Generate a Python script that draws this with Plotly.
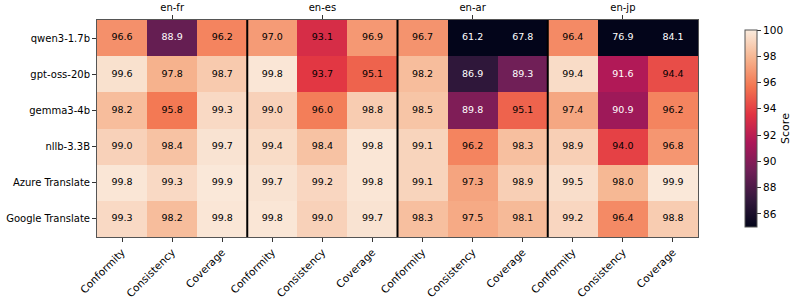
import plotly.graph_objects as go

models = ["qwen3-1.7b", "gpt-oss-20b", "gemma3-4b", "nllb-3.3B", "Azure Translate", "Google Translate"]
pairs = ["en-fr", "en-es", "en-ar", "en-jp"]
metrics = ["Conformity", "Consistency", "Coverage"]

qwen = [96.6, 88.9, 96.2, 97.0, 93.1, 96.9, 96.7, 61.2, 67.8, 96.4, 76.9, 84.1]
gptoss = [99.6, 97.8, 98.7, 99.8, 93.7, 95.1, 98.2, 86.9, 89.3, 99.4, 91.6, 94.4]
gemma = [98.2, 95.8, 99.3, 99.0, 96.0, 98.8, 98.5, 89.8, 95.1, 97.4, 90.9, 96.2]
nllb = [99.0, 98.4, 99.7, 99.4, 98.4, 99.8, 99.1, 96.2, 98.3, 98.9, 94.0, 96.8]
azure = [99.8, 99.3, 99.9, 99.7, 99.2, 99.8, 99.1, 97.3, 98.9, 99.5, 98.0, 99.9]
google = [99.3, 98.2, 99.8, 99.8, 99.0, 99.7, 98.3, 97.5, 98.1, 99.2, 96.4, 98.8]

z = [qwen, gptoss, gemma, nllb, azure, google]
ZMIN, ZMAX = 85, 100

rocket = [
    [0.0, "#03051a"], [0.143, "#35193e"], [0.286, "#701f57"], [0.429, "#ad1759"],
    [0.571, "#e13342"], [0.714, "#f37651"], [0.857, "#f6b48f"], [1.0, "#faebdd"],
]

ncol = len(pairs) * len(metrics)
xs, ys, txt, cols = [], [], [], []
for i, row in enumerate(z):
    for j, v in enumerate(row):
        xs.append(j)
        ys.append(i)
        txt.append(f"{v:.1f}")
        cols.append("white" if v < 92.5 else "black")

fig = go.Figure()
fig.add_trace(go.Heatmap(
    z=z, x=list(range(ncol)), y=list(range(len(models))),
    zmin=ZMIN, zmax=ZMAX, colorscale=rocket,
    colorbar=dict(
        x=1.0616, xanchor="left", thickness=12, len=1, lenmode="fraction", y=0.5, yanchor="middle",
        outlinewidth=1, outlinecolor="#555", ticks="outside", ticklen=4, tickcolor="#333",
        tickvals=[86, 88, 90, 92, 94, 96, 98, 100], tickfont=dict(size=10.5, color="black"),
        title=dict(text="Score", side="right", font=dict(size=11, color="black")),
    ),
    hoverinfo="skip",
))
fig.add_trace(go.Scatter(
    x=xs, y=ys, text=txt, mode="text", xaxis="x2",
    textfont=dict(size=9.5, color=cols, family="DejaVu Sans"),
    hoverinfo="skip", showlegend=False,
))

for k in range(1, len(pairs)):
    b = k * len(metrics) - 0.5
    fig.add_shape(type="line", x0=b, x1=b, y0=0, y1=1, xref="x", yref="paper",
                  line=dict(color="black", width=2))

fig.update_layout(
    width=793, height=300,
    margin=dict(l=97, r=95, t=20, b=63, autoexpand=False),
    paper_bgcolor="white", plot_bgcolor="white",
    font=dict(family="DejaVu Sans", color="black"),
    xaxis=dict(
        range=[-0.5, ncol - 0.5], tickvals=list(range(ncol)), automargin=False,
        ticktext=metrics * len(pairs), tickangle=-45, tickfont=dict(size=10.5),
        ticks="outside", ticklen=4, tickcolor="#333",
        showline=True, linecolor="#555", linewidth=1, mirror=True, showgrid=False, zeroline=False,
    ),
    xaxis2=dict(
        overlaying="x", side="top", range=[-0.5, ncol - 0.5], automargin=False,
        tickvals=[1 + 3 * k for k in range(len(pairs))], ticktext=pairs,
        tickfont=dict(size=10), ticks="outside", ticklen=4, tickcolor="#333",
        showgrid=False, zeroline=False,
    ),
    yaxis=dict(
        range=[len(models) - 0.5, -0.5], tickvals=list(range(len(models))), ticktext=models,
        tickfont=dict(size=10), ticks="outside", ticklen=4, tickcolor="#333", automargin=False,
        showline=True, linecolor="#555", linewidth=1, mirror=True, showgrid=False, zeroline=False,
    ),
)

fig.write_html("out.html", config={"displayModeBar": False},
               post_script="document.body.style.margin='0';")
